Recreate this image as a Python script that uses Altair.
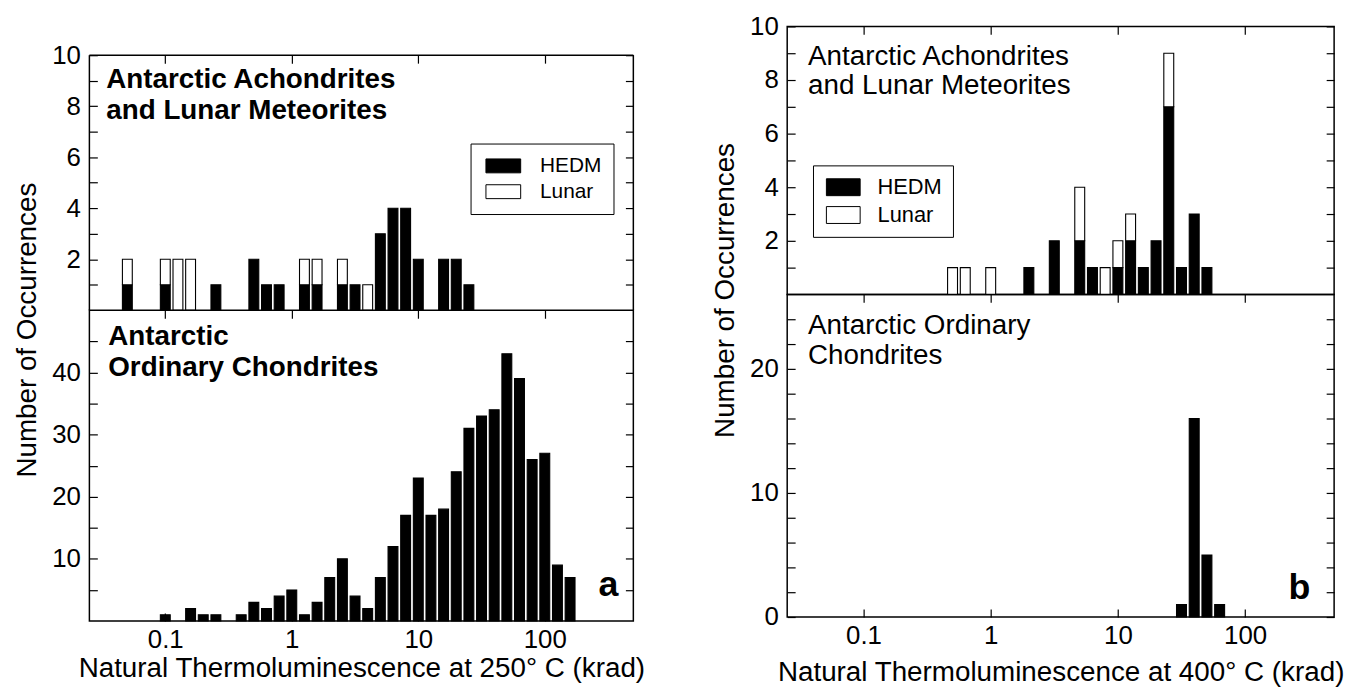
import altair as alt
import pandas as pd

FONT = "Liberation Sans"

# ---------------- data (bin centres given as log10 of krad) ----------------
a_top_bin = [-1.3, -1.0, -0.9, -0.8, -0.6, -0.3, -0.2, -0.1, 0.1, 0.2, 0.4, 0.5, 0.6, 0.7, 0.8, 0.9, 1.0, 1.2, 1.3, 1.4]
a_top_hedm = [1, 1, 0, 0, 1, 2, 1, 1, 1, 1, 1, 1, 0, 3, 4, 4, 2, 2, 2, 1]
a_top_lunar = [1, 1, 2, 2, 0, 0, 0, 0, 1, 1, 1, 0, 1, 0, 0, 0, 0, 0, 0, 0]

a_bot_bin = [-1.0, -0.8, -0.7, -0.6, -0.4, -0.3, -0.2, -0.1, 0.0, 0.1, 0.2, 0.3, 0.4, 0.5, 0.6, 0.7,
             0.8, 0.9, 1.0, 1.1, 1.2, 1.3, 1.4, 1.5, 1.6, 1.7, 1.8, 1.9, 2.0, 2.1, 2.2]
a_bot_count = [1, 2, 1, 1, 1, 3, 2, 4, 5, 1, 3, 7, 10, 4, 2, 7,
               12, 17, 23, 17, 18, 24, 31, 33, 34, 43, 39, 26, 27, 9, 7]

b_top_bin = [-0.3, -0.2, 0.0, 0.3, 0.5, 0.7, 0.8, 0.9, 1.0, 1.1, 1.2, 1.3, 1.4, 1.5, 1.6, 1.7]
b_top_hedm = [0, 0, 0, 1, 2, 2, 1, 0, 1, 2, 1, 2, 7, 1, 3, 1]
b_top_lunar = [1, 1, 1, 0, 0, 2, 0, 1, 1, 1, 0, 0, 2, 0, 0, 0]

b_bot_bin = [1.5, 1.6, 1.7, 1.8]
b_bot_count = [1, 16, 5, 1]

x_tick_values = [0.1, 1, 10, 100]
series_names = ["HEDM", "Lunar"]

# ---------------- layout constants ----------------
XMIN, XMAX = 10 ** -1.6, 10 ** 2.7
HALF = 0.039            # half bar width, log10 units
W_A, W_B = 548, 551
H_AT, H_AB = 286, 313   # top-left extends upward (empty) so both columns start level
H_BT, H_BB = 270, 325
YMAX_AT = 10 * H_AT / 257.0
TOP_A_PIX = H_AT * (1 - 10 / YMAX_AT)
GAP = 155


def stacked(bins, hedm, lunar):
    rows = []
    for e, h, l in zip(bins, hedm, lunar):
        lo, hi, mid = 10 ** (e - HALF), 10 ** (e + HALF), 10 ** e
        if h > 0:
            rows.append(dict(lo=lo, hi=hi, mid=mid, y0=0, y1=h, series="HEDM"))
        if l > 0:
            rows.append(dict(lo=lo, hi=hi, mid=mid, y0=h, y1=h + l, series="Lunar"))
    return pd.DataFrame(rows)


def single(bins, counts):
    return pd.DataFrame(dict(
        lo=[10 ** (e - HALF) for e in bins],
        hi=[10 ** (e + HALF) for e in bins],
        mid=[10 ** e for e in bins],
        y0=[0] * len(bins),
        y1=counts,
    ))


xs = alt.Scale(type="log", domain=[XMIN, XMAX], nice=False)


def ys(ymax):
    return alt.Scale(domain=[0, ymax], nice=False, zero=True)


def left_axis(vals, step, title=None, tx=0, ty=0):
    kw = dict(values=vals, orient="left", offset=-8, tickSize=8, domain=False, grid=False,
              labelPadding=9, labelFlush=False, labelOverlap=False,
              labelExpr=f"datum.value % {step} == 0 ? datum.label : ''")
    if title:
        kw.update(title=title, titleX=tx, titleY=ty, titleAngle=270, titleAlign="center",
                  titleBaseline="middle")
    else:
        kw.update(title=None)
    return alt.Axis(**kw)


def right_axis(vals):
    return alt.Axis(values=vals, orient="right", offset=-8, tickSize=8, domain=False, grid=False,
                    labels=False, title=None)


def top_axis(off):
    return alt.Axis(values=x_tick_values, orient="top", offset=off, tickSize=8, domain=False,
                    grid=False, labels=False, title=None)


def bottom_axis(title, ty, tx):
    return alt.Axis(values=x_tick_values, orient="bottom", offset=-8, tickSize=8, domain=False,
                    grid=False, format="~g", labelPadding=6, labelFlush=False, labelOverlap=False,
                    title=title, titleY=ty, titleX=tx, titleBaseline="middle")


def note(text, x, y, size, weight="normal", align="left"):
    return alt.Chart(pd.DataFrame({"t": [text]})).mark_text(
        align=align, baseline="middle", fontSize=size, font=FONT, fontWeight=weight, color="black"
    ).encode(x=alt.value(x), y=alt.value(y), text="t:N")


def legend(lx, ly, path, size, offset, rowpad, fs, pad):
    return alt.Legend(title=None, orient="none", legendX=lx, legendY=ly, strokeColor="black",
                      fillColor="white", padding=pad, symbolType=path, symbolSize=size,
                      symbolStrokeColor="black", symbolStrokeWidth=1, labelFont=FONT,
                      labelFontSize=fs, labelColor="black", labelOffset=offset, rowPadding=rowpad)


def panel(df, W, H, ymax, yvals, step, xaxis, top_off, fill_legend=None, yaxis=None, notes=(), extra=()):
    enc = dict(
        x=alt.X("lo:Q", scale=xs, axis=xaxis),
        x2="hi",
        y=alt.Y("y0:Q", scale=ys(ymax), axis=yaxis if yaxis is not None else left_axis(yvals, step)),
        y2="y1",
    )
    if fill_legend is not None:
        enc["fill"] = alt.Fill("series:N", scale=alt.Scale(domain=series_names, range=["black", "white"]),
                               legend=fill_legend)
        bars = alt.Chart(df).mark_bar(stroke="black", strokeWidth=1.1).encode(**enc)
    else:
        bars = alt.Chart(df).mark_bar(fill="black", stroke="black", strokeWidth=1.1).encode(**enc)
    ghost = alt.Chart(df).mark_point(opacity=0).encode(
        x=alt.X("mid:Q", scale=xs, axis=top_axis(top_off)),
        y=alt.Y("y1:Q", scale=ys(ymax), axis=right_axis(yvals)),
    )
    return alt.layer(bars, ghost, *extra, *notes).resolve_axis(x="independent", y="independent").properties(
        width=W, height=H)


# ---------------- panel a ----------------
df_at = stacked(a_top_bin, a_top_hedm, a_top_lunar)
frame_at = pd.DataFrame(dict(xa=[XMIN, XMIN, XMAX], xb=[XMAX, XMIN, XMAX], ya=[10, 0, 0], yb=[10, 10, 10]))
frame_rules = alt.Chart(frame_at).mark_rule(color="black", strokeWidth=1.5).encode(
    x=alt.X("xa:Q", scale=xs, axis=None), x2="xb",
    y=alt.Y("ya:Q", scale=ys(YMAX_AT), axis=None), y2="yb")

a_top = panel(
    df_at, W_A, H_AT, YMAX_AT, list(range(1, 11)), 2, None, -(TOP_A_PIX + 8),
    # swatch 35x14 drawn to the right of the symbol anchor
    fill_legend=legend(384, 118, "M-1,-1H4V1H-1Z", 196, 37, 4, 21, 12),
    notes=[note("Antarctic Achondrites", 17, 54, 28, "bold"),
           note("and Lunar Meteorites", 17, 85, 28, "bold")],
    extra=[frame_rules],
).properties(view=alt.ViewBackground(stroke="transparent"))

a_bot = panel(
    single(a_bot_bin, a_bot_count), W_A, H_AB, 50, list(range(5, 50, 5)), 10,
    bottom_axis("Natural Thermoluminescence at 250° C (krad)", 56, W_A / 2), -8,
    yaxis=left_axis(list(range(5, 50, 5)), 10, "Number of Occurrences", -70, 19.5),
    notes=[note("Antarctic", 19, 27, 28, "bold"),
           note("Ordinary Chondrites", 19, 58, 28, "bold"),
           note("a", 523, 277, 36, "bold", "center")],
)

# ---------------- panel b ----------------
b_top = panel(
    stacked(b_top_bin, b_top_hedm, b_top_lunar), W_B, H_BT, 10, list(range(1, 11)), 2, None, -8,
    # swatch 34x17 drawn to the right of the symbol anchor
    fill_legend=legend(26, 140, "M-1,-1H3V1H-1Z", 289, 32, 6, 22, 11),
    notes=[note("Antarctic Achondrites", 21, 31, 28),
           note("and Lunar Meteorites", 21, 60, 28)],
)

b_bot = panel(
    single(b_bot_bin, b_bot_count), W_B, H_BB, 26, list(range(0, 26, 2)), 10,
    bottom_axis("Natural Thermoluminescence at 400° C (krad)", 64, W_B / 2), -8,
    yaxis=left_axis(list(range(0, 26, 2)), 10, "Number of Occurrences", -70, -4.5),
    notes=[note("Antarctic Ordinary", 21, 32, 28),
           note("Chondrites", 21, 62, 28),
           note("b", 516, 296, 36, "bold", "center")],
)

left_col = alt.vconcat(a_top, a_bot, spacing=0, bounds="flush").resolve_scale(
    y="independent", fill="independent").resolve_legend(fill="independent")
right_col = alt.vconcat(b_top, b_bot, spacing=0, bounds="flush").resolve_scale(
    y="independent", fill="independent").resolve_legend(fill="independent")

# with flush bounds the nested column counts as zero width, so the spacing spans the left plot too
chart = alt.hconcat(left_col, right_col, spacing=W_A + GAP, bounds="flush").resolve_scale(
    fill="independent").resolve_legend(fill="independent").properties(
    padding={"left": 5, "top": 2, "right": 5, "bottom": 5}
).configure_view(
    stroke="black", strokeWidth=1.5
).configure_axis(
    labelFont=FONT, titleFont=FONT, labelColor="black", titleColor="black", tickColor="black",
    tickWidth=1.2, labelFontSize=26, titleFontSize=28, titleFontWeight="normal", grid=False
).configure_legend(
    labelFont=FONT
)

chart.save("out.html", embed_options={"renderer": "svg", "actions": False})
